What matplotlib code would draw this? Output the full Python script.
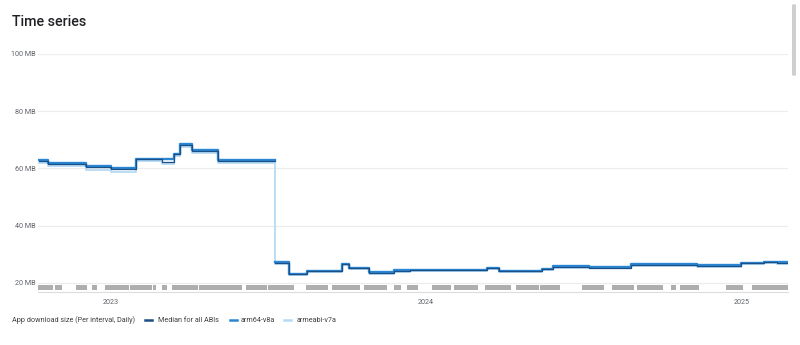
import matplotlib
matplotlib.use('Agg')
import matplotlib.pyplot as plt
import matplotlib.dates as mdates
import numpy as np
from matplotlib.patches import FancyBboxPatch
from matplotlib.lines import Line2D

plt.rcParams['font.family'] = ['Roboto', 'DejaVu Sans']

# ---- data (step change dates; last entry = end of series) ----
change_dates = ['2022-10-10', '2022-10-21', '2022-12-04', '2023-01-02', '2023-01-30',
                '2023-03-02', '2023-03-15', '2023-03-23', '2023-04-05', '2023-05-05',
                '2023-07-11', '2023-07-27', '2023-08-17', '2023-09-26', '2023-10-04',
                '2023-10-27', '2023-11-26', '2023-12-14', '2024-03-12', '2024-03-26',
                '2024-05-15', '2024-05-28', '2024-07-09', '2024-08-26', '2024-11-10',
                '2025-01-01', '2025-01-27', '2025-02-11', '2025-02-23']
median_all = [62.6, 61.5, 60.5, 59.7, 63.2, 62.4, 65.0, 68.2, 66.2, 62.6,
              27.1, 23.1, 24.1, 26.6, 25.2, 23.6, 24.2, 24.5, 25.1, 24.1,
              24.8, 25.7, 25.4, 26.3, 26.0, 26.9, 27.3, 27.0, 27.0]
arm64_v8a = [62.9, 61.8, 60.8, 60.0, 63.4, 63.2, 65.2, 68.4, 66.4, 62.9,
             27.3, 23.3, 24.3, 26.8, 25.4, 23.8, 24.4, 24.7, 25.3, 24.3,
             25.0, 25.9, 25.6, 26.5, 26.2, 27.1, 27.5, 27.2, 27.2]
armeabi_v7a = [62.0, 60.7, 59.6, 58.9, 62.7, 61.6, 64.2, 67.5, 65.5, 62.0,
               26.8, 22.8, 23.8, 26.3, 24.9, 23.3, 23.9, 24.2, 24.8, 23.8,
               24.5, 25.4, 25.1, 26.0, 25.7, 26.6, 27.0, 26.7, 26.7]

# release marker periods (start, end)
release_periods = [('2022-10-09', '2022-10-26'), ('2022-10-29', '2022-11-06'),
                   ('2022-11-22', '2022-12-05'), ('2022-12-10', '2022-12-16'),
                   ('2022-12-26', '2023-01-22'), ('2023-01-24', '2023-02-18'),
                   ('2023-02-19', '2023-02-23'), ('2023-03-02', '2023-03-08'),
                   ('2023-03-13', '2023-04-12'), ('2023-04-13', '2023-06-02'),
                   ('2023-06-07', '2023-07-01'), ('2023-07-02', '2023-08-02'),
                   ('2023-08-15', '2023-09-10'), ('2023-09-15', '2023-10-17'),
                   ('2023-10-22', '2023-11-17'), ('2023-11-26', '2023-12-04'),
                   ('2023-12-10', '2023-12-23'), ('2024-01-08', '2024-01-31'),
                   ('2024-02-03', '2024-03-02'), ('2024-03-10', '2024-04-09'),
                   ('2024-04-15', '2024-05-11'), ('2024-05-13', '2024-06-05'),
                   ('2024-06-30', '2024-07-26'), ('2024-08-04', '2024-08-30'),
                   ('2024-09-02', '2024-10-02'), ('2024-10-11', '2024-10-17'),
                   ('2024-10-22', '2024-11-13'), ('2024-12-14', '2025-01-03'),
                   ('2025-01-13', '2025-02-24')]

y_ticks = [20, 40, 60, 80, 100]
y_tick_labels = ['20 MB', '40 MB', '60 MB', '80 MB', '100 MB']
x_ticks = ['2023-01-01', '2024-01-01', '2025-01-01']
x_tick_labels = ['2023', '2024', '2025']

series_names = ['Median for all ABIs', 'arm64-v8a', 'armeabi-v7a']
colors = ['#1c4f86', '#2a86d3', '#b5daf3']

# ---- figure ----
W, H = 800, 345
fig = plt.figure(figsize=(W / 100, H / 100), dpi=100)
ax = fig.add_axes([38 / W, 1 - 292 / H, 750 / W, 238 / H])

d = mdates.date2num(np.array(change_dates, dtype='datetime64[D]'))
split = 10  # index where the big size drop happens
# light series drawn continuously (its vertical drop is visible)
ax.plot(d, armeabi_v7a, drawstyle='steps-post', color=colors[2], lw=1.3, zorder=2)
# darker series drawn in two pieces, leaving the drop to the light line
for vals, c, lw, z in [(arm64_v8a, colors[1], 1.7, 3), (median_all, colors[0], 0.9, 4)]:
    v = np.array(vals)
    ax.plot(np.append(d[:split], d[split]), np.append(v[:split], v[split - 1]),
            drawstyle='steps-post', color=c, lw=lw, zorder=z)
    ax.plot(d[split:], v[split:], drawstyle='steps-post', color=c, lw=lw, zorder=z)

# release strip
xr = []
for s, e in release_periods:
    s0 = mdates.date2num(np.datetime64(s))
    e0 = mdates.date2num(np.datetime64(e))
    xr.append((s0, e0 - s0))
ax.broken_barh(xr, (17.5, 1.8), facecolors='#aeaeae', edgecolor='none', zorder=1)

ax.set_xlim(mdates.date2num(np.datetime64('2022-10-09')), mdates.date2num(np.datetime64('2025-02-24')))
ax.set_ylim(16.85, 100)

ax.set_yticks(y_ticks)
ax.set_yticklabels(y_tick_labels)
ax.set_xticks(mdates.date2num(np.array(x_ticks, dtype='datetime64[D]')))
ax.set_xticklabels(x_tick_labels)
ax.tick_params(axis='both', length=0, labelsize=5.2, labelcolor='#5f6368')
ax.tick_params(axis='y', pad=1.5)
ax.tick_params(axis='x', pad=5)
ax.grid(axis='y', color='#ececec', lw=0.8, zorder=0)
ax.set_axisbelow(True)
for sp in ['top', 'right', 'left']:
    ax.spines[sp].set_visible(False)
ax.spines['bottom'].set_color('#dadce0')
ax.spines['bottom'].set_linewidth(0.8)

# title
fig.text(12 / W, 1 - 22 / H, 'Time series', fontsize=10.3, fontweight='medium',
         color='#202124', va='center', ha='left')

# legend
ly = 1 - 320 / H
fig.text(12 / W, ly, 'App download size (Per interval, Daily)', fontsize=5.2,
         color='#3c4043', va='center', ha='left')
leg_x = [(145, 158), (230, 241), (284, 297)]
for (lx, tx), name, c in zip(leg_x, series_names, colors):
    fig.add_artist(Line2D([lx / W, (lx + 7) / W], [ly, ly], color=c, lw=1.8,
                          transform=fig.transFigure))
    fig.text(tx / W, ly, name, fontsize=5.2, color='#3c4043', va='center', ha='left')

# scrollbar
fig.add_artist(FancyBboxPatch((792 / W, 1 - 76 / H), 4 / W, 72 / H,
                              boxstyle='round,pad=0,rounding_size=0.004',
                              transform=fig.transFigure, facecolor='#cfcfcf',
                              edgecolor='none'))

fig.savefig('out.png', dpi=100, facecolor='white')
